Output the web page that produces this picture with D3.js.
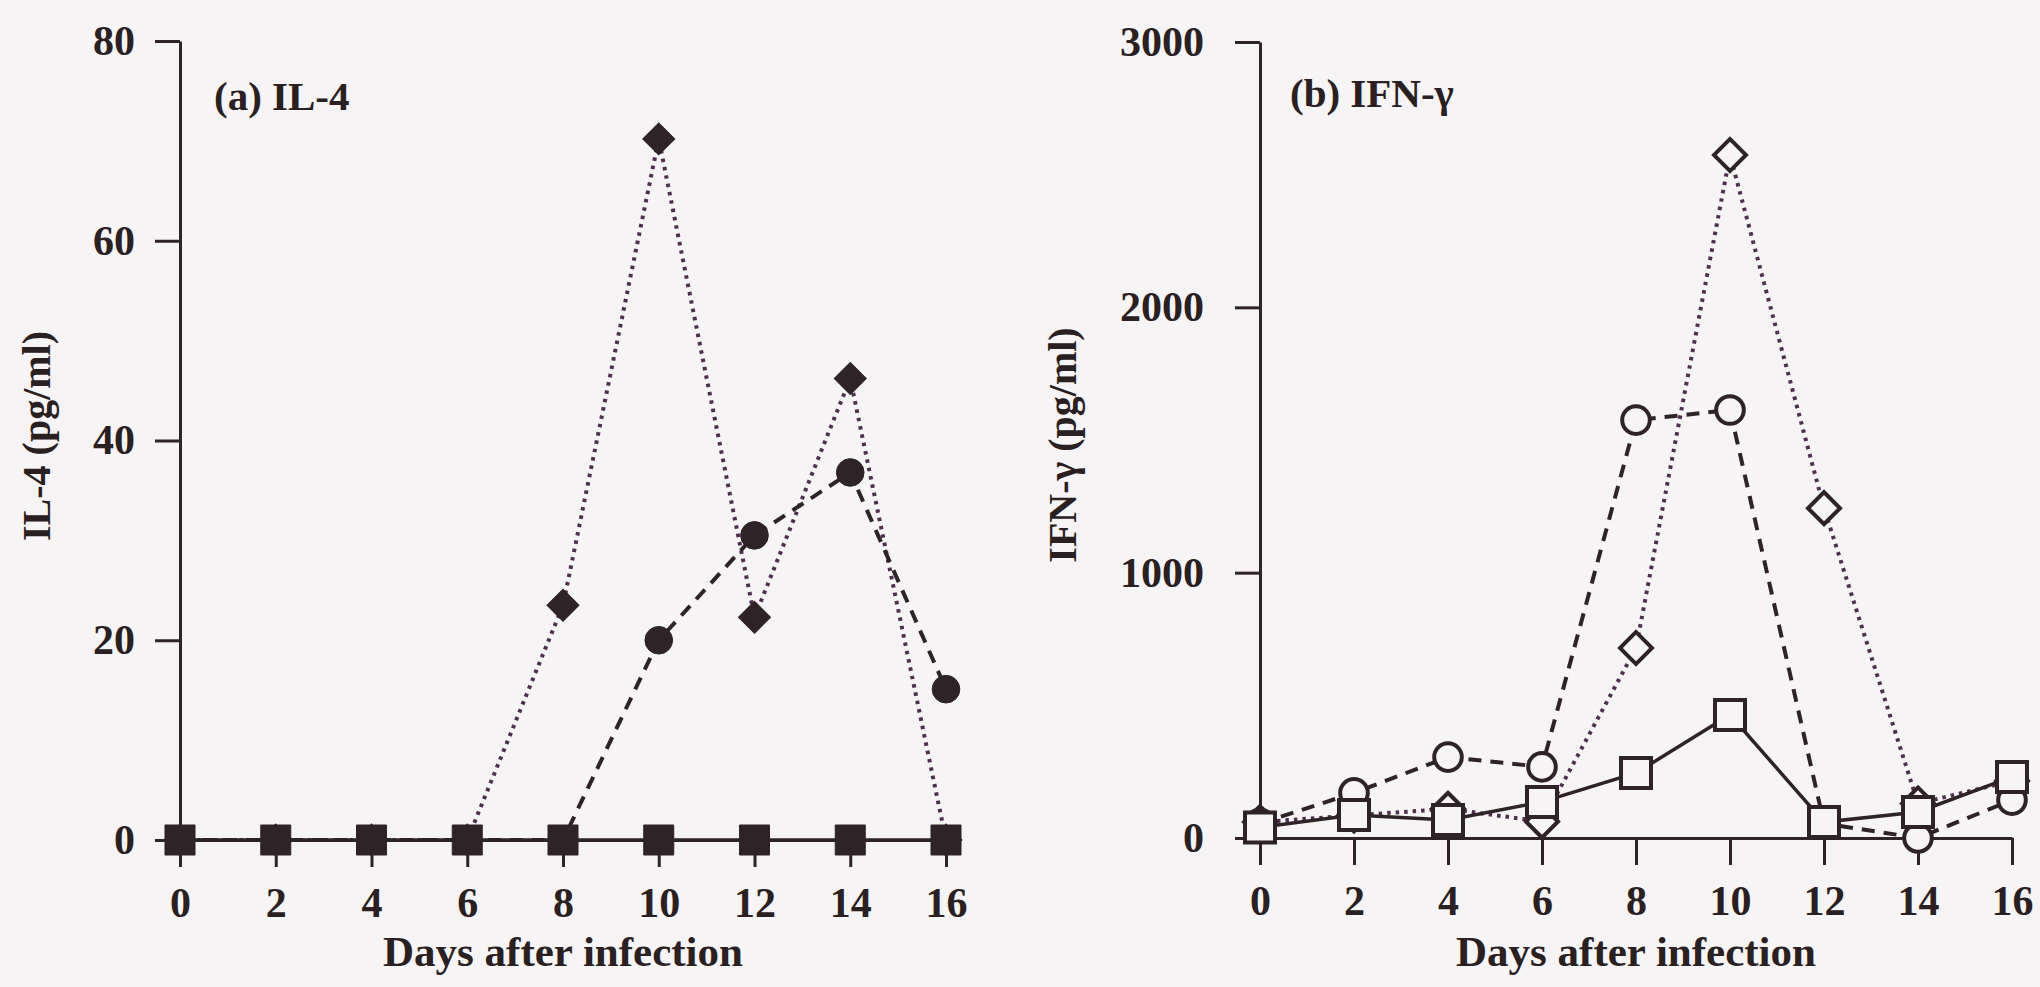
<!DOCTYPE html>
<html>
<head>
<meta charset="utf-8">
<script src="https://cdn.jsdelivr.net/npm/d3@7"></script>
<style>
  html, body { margin: 0; padding: 0; background: #f6f4f4; }
  svg { display: block; }
  text { font-family: "Liberation Serif", "Times New Roman", serif; font-weight: bold; fill: #2a2022; }
</style>
</head>
<body>
<div id="chart"></div>
<script>
// data
const days = [0, 2, 4, 6, 8, 10, 12, 14, 16];
const dayTicks = [0, 2, 4, 6, 8, 10, 12, 14, 16];

const il4Square  = [0, 0, 0, 0, 0, 0, 0, 0, 0];
const il4Diamond = [0, 0, 0, 0, 23.5, 70.2, 22.3, 46.2, 0];
const il4Circle  = [0, 0, 0, 0, 0, 20, 30.5, 36.8, 15.1];
const il4Ticks   = [0, 20, 40, 60, 80];

const ifnSquare  = [40, 87, 68, 136, 245, 464, 60, 98, 230];
const ifnCircle  = [55, 170, 305, 268, 1575, 1613, 55, 0, 143];
const ifnDiamond = [60, 85, 110, 62, 716, 2574, 1243, 130, 215];
const ifnTicks   = [0, 1000, 2000, 3000];

const W = 2040, H = 987;
const ink = "#2e2326", dotInk = "#4f2f4c", bg = "#f6f4f4";

const svg = d3.select("#chart").append("svg").attr("width", W).attr("height", H);

function drawPanel(p) {
  const x = d3.scaleLinear().domain([0, 16]).range(p.xRange);
  const y = d3.scaleLinear().domain([0, p.yMax]).range(p.yRange);
  const g = svg.append("g");

  const yAxis = g.append("g").attr("transform", `translate(${p.xRange[0]},0)`)
    .call(d3.axisLeft(y).tickValues(p.yTicks).tickFormat(d3.format("d"))
      .tickSize(25).tickSizeOuter(0).tickPadding(p.yPad));
  const xAxis = g.append("g").attr("transform", `translate(0,${p.yRange[0]})`)
    .call(d3.axisBottom(x).tickValues(dayTicks).tickFormat(d3.format("d"))
      .tickSize(27).tickSizeOuter(0).tickPadding(20));
  [yAxis, xAxis].forEach(a => {
    a.selectAll("path, line").attr("stroke", ink).attr("stroke-width", 3);
    a.selectAll("text").style("font-size", "42px").attr("fill", "#2a2022");
  });

  // axis titles
  g.append("text").attr("x", (p.xRange[0] + p.xRange[1]) / 2).attr("y", 966)
    .attr("text-anchor", "middle").style("font-size", "43px").text("Days after infection");
  g.append("text").attr("transform", `translate(${p.yTitleX},${p.yTitleY}) rotate(-90)`)
    .attr("text-anchor", "middle").style("font-size", "40px").text(p.yTitle);
  g.append("text").attr("x", p.labelX).attr("y", p.labelY).style("font-size", "41px").text(p.label);

  const line = d3.line().x((d, i) => x(days[i])).y(d => y(d));

  p.series.forEach(s => {
    g.append("path").datum(s.values).attr("d", line).attr("fill", "none")
      .attr("stroke", s.dash === "dot" ? dotInk : ink)
      .attr("stroke-width", s.dash === "solid" ? 3.5 : 4)
      .attr("stroke-dasharray", s.dash === "dot" ? "3.5,5" : s.dash === "dash" ? "13,9" : null);
  });

  p.series.forEach(s => {
    const sym = d3.symbol().type(s.shape === "circle" ? d3.symbolCircle : d3.symbolSquare)
      .size(s.shape === "circle" ? 600 : s.shape === "diamond" ? 512 : 900);
    g.selectAll(null).data(s.values).enter().append("path")
      .attr("d", sym)
      .attr("transform", (d, i) => `translate(${x(days[i])},${y(d)})` + (s.shape === "diamond" ? " rotate(45)" : ""))
      .attr("fill", s.filled ? ink : bg)
      .attr("stroke", ink).attr("stroke-width", s.filled ? 1 : 4);
  });
}

drawPanel({
  xRange: [180, 946], yRange: [840, 41], yMax: 80, yTicks: il4Ticks, yPad: 20,
  yTitle: "IL-4 (pg/ml)", yTitleX: 50, yTitleY: 436,
  label: "(a) IL-4", labelX: 214, labelY: 110,
  series: [
    { values: il4Diamond, shape: "diamond", dash: "dot", filled: true },
    { values: il4Circle, shape: "circle", dash: "dash", filled: true },
    { values: il4Square, shape: "square", dash: "solid", filled: true }
  ]
});

drawPanel({
  xRange: [1260, 2012], yRange: [838, 42], yMax: 3000, yTicks: ifnTicks, yPad: 31,
  yTitle: "IFN-γ (pg/ml)", yTitleX: 1076, yTitleY: 445,
  label: "(b) IFN-γ", labelX: 1290, labelY: 107,
  series: [
    { values: ifnDiamond, shape: "diamond", dash: "dot", filled: false },
    { values: ifnCircle, shape: "circle", dash: "dash", filled: false },
    { values: ifnSquare, shape: "square", dash: "solid", filled: false }
  ]
});
</script>
</body>
</html>
